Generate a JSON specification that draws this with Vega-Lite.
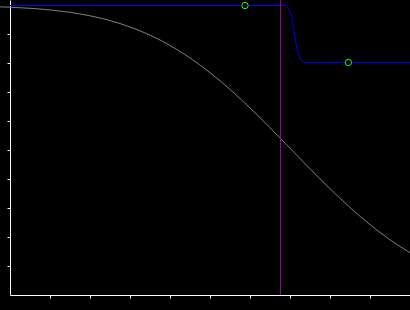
{
  "$schema": "https://vega.github.io/schema/vega-lite/v6.json",
  "width": 400,
  "height": 295,
  "autosize": "none",
  "padding": {"left": 10, "top": 0, "right": 0, "bottom": 15},
  "background": "#000000",
  "config": {
    "view": {"stroke": null},
    "axis": {
      "domainColor": "#ffffff",
      "domainWidth": 1,
      "tickColor": "#ffffff",
      "tickWidth": 1,
      "tickSize": 3,
      "labels": false,
      "grid": false,
      "title": null
    }
  },
  "datasets": {
    "curve": [
      {"x": -0.25, "y": 0.9954},
      {"x": 0, "y": 0.9941},
      {"x": 0.5, "y": 0.9903},
      {"x": 1, "y": 0.9847},
      {"x": 1.5, "y": 0.9763},
      {"x": 2, "y": 0.9644},
      {"x": 2.5, "y": 0.9479},
      {"x": 3, "y": 0.9259},
      {"x": 3.5, "y": 0.8976},
      {"x": 4, "y": 0.862},
      {"x": 4.5, "y": 0.8188},
      {"x": 5, "y": 0.7679},
      {"x": 5.5, "y": 0.7101},
      {"x": 6, "y": 0.6462},
      {"x": 6.5, "y": 0.5777},
      {"x": 7, "y": 0.5072},
      {"x": 7.5, "y": 0.4361},
      {"x": 8, "y": 0.3673},
      {"x": 8.5, "y": 0.3023},
      {"x": 9, "y": 0.2432},
      {"x": 9.5, "y": 0.1908},
      {"x": 10, "y": 0.146}
    ],
    "step": [
      {"x": 0, "y": 1.0},
      {"x": 6.875, "y": 1.0},
      {"x": 6.958, "y": 0.9886},
      {"x": 7.017, "y": 0.9714},
      {"x": 7.058, "y": 0.9483},
      {"x": 7.1, "y": 0.9138},
      {"x": 7.125, "y": 0.8907},
      {"x": 7.167, "y": 0.8562},
      {"x": 7.225, "y": 0.8276},
      {"x": 7.292, "y": 0.8103},
      {"x": 7.375, "y": 0.8045},
      {"x": 7.458, "y": 0.80311},
      {"x": 10, "y": 0.80311}
    ],
    "marker": [{"x": 6.7625}],
    "pts": [
      {"x": 5.875, "y": 1.0},
      {"x": 8.46, "y": 0.80311}
    ]
  },
  "encoding": {
    "x": {
      "field": "x",
      "type": "quantitative",
      "scale": {"domain": [0, 10], "nice": false, "zero": false},
      "axis": {"values": [1, 2, 3, 4, 5, 6, 7, 8, 9]}
    },
    "y": {
      "field": "y",
      "type": "quantitative",
      "scale": {"domain": [0, 1.019], "nice": false, "zero": false},
      "axis": {"values": [0.1, 0.2, 0.3, 0.4, 0.5, 0.6, 0.7, 0.8, 0.9]}
    }
  },
  "layer": [
    {
      "data": {"name": "curve"},
      "mark": {"type": "line", "color": "#808080", "strokeWidth": 1, "interpolate": "monotone"}
    },
    {
      "data": {"name": "step"},
      "mark": {"type": "line", "color": "#0000ff", "strokeWidth": 1, "interpolate": "monotone"}
    },
    {
      "data": {"name": "marker"},
      "mark": {"type": "rule", "color": "#990099", "strokeWidth": 1},
      "encoding": {"y": null}
    },
    {
      "data": {"name": "pts"},
      "mark": {"type": "point", "shape": "circle", "filled": false, "stroke": "#22ff22", "fill": "#000000", "fillOpacity": 1, "strokeWidth": 1, "size": 40}
    }
  ]
}
